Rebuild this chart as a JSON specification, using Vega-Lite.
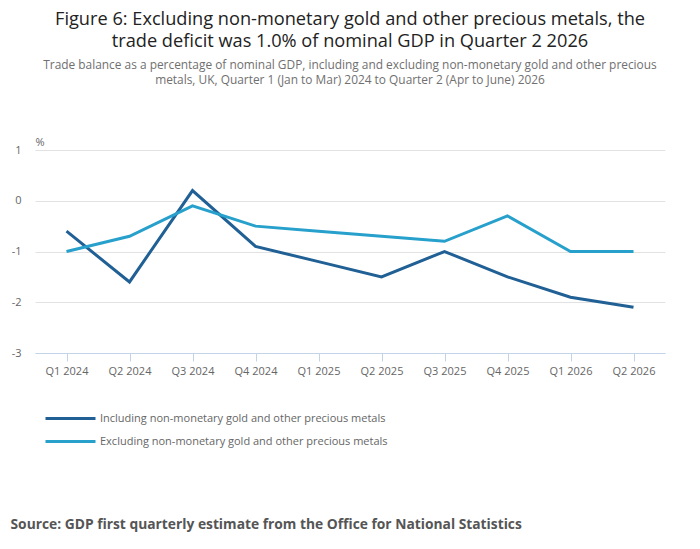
{
  "$schema": "https://vega.github.io/schema/vega-lite/v6.json",
  "width": 630,
  "height": 203,
  "autosize": "none",
  "padding": {"left": 35, "top": 150, "right": 35, "bottom": 196},
  "background": "white",
  "title": {
    "text": ["Figure 6: Excluding non-monetary gold and other precious metals, the", "trade deficit was 1.0% of nominal GDP in Quarter 2 2026"],
    "subtitle": ["Trade balance as a percentage of nominal GDP, including and excluding non-monetary gold and other precious", "metals, UK, Quarter 1 (Jan to Mar) 2024 to Quarter 2 (Apr to June) 2026"],
    "anchor": "middle",
    "font": "Open Sans",
    "fontSize": 18.2,
    "fontWeight": "normal",
    "color": "#222222",
    "lineHeight": 22,
    "subtitleFont": "Open Sans",
    "subtitleFontSize": 11.9,
    "subtitleColor": "#707070",
    "subtitleLineHeight": 15,
    "subtitlePadding": 9,
    "offset": 49
  },
  "data": {
    "values": [
      {"quarter": "Q1 2024", "series": "Including non-monetary gold and other precious metals", "value": -0.6},
      {"quarter": "Q2 2024", "series": "Including non-monetary gold and other precious metals", "value": -1.6},
      {"quarter": "Q3 2024", "series": "Including non-monetary gold and other precious metals", "value": 0.2},
      {"quarter": "Q4 2024", "series": "Including non-monetary gold and other precious metals", "value": -0.9},
      {"quarter": "Q1 2025", "series": "Including non-monetary gold and other precious metals", "value": -1.2},
      {"quarter": "Q2 2025", "series": "Including non-monetary gold and other precious metals", "value": -1.5},
      {"quarter": "Q3 2025", "series": "Including non-monetary gold and other precious metals", "value": -1.0},
      {"quarter": "Q4 2025", "series": "Including non-monetary gold and other precious metals", "value": -1.5},
      {"quarter": "Q1 2026", "series": "Including non-monetary gold and other precious metals", "value": -1.9},
      {"quarter": "Q2 2026", "series": "Including non-monetary gold and other precious metals", "value": -2.1},
      {"quarter": "Q1 2024", "series": "Excluding non-monetary gold and other precious metals", "value": -1.0},
      {"quarter": "Q2 2024", "series": "Excluding non-monetary gold and other precious metals", "value": -0.7},
      {"quarter": "Q3 2024", "series": "Excluding non-monetary gold and other precious metals", "value": -0.1},
      {"quarter": "Q4 2024", "series": "Excluding non-monetary gold and other precious metals", "value": -0.5},
      {"quarter": "Q1 2025", "series": "Excluding non-monetary gold and other precious metals", "value": -0.6},
      {"quarter": "Q2 2025", "series": "Excluding non-monetary gold and other precious metals", "value": -0.7},
      {"quarter": "Q3 2025", "series": "Excluding non-monetary gold and other precious metals", "value": -0.8},
      {"quarter": "Q4 2025", "series": "Excluding non-monetary gold and other precious metals", "value": -0.3},
      {"quarter": "Q1 2026", "series": "Excluding non-monetary gold and other precious metals", "value": -1.0},
      {"quarter": "Q2 2026", "series": "Excluding non-monetary gold and other precious metals", "value": -1.0}
    ]
  },
  "mark": {"type": "line", "strokeWidth": 3, "strokeJoin": "miter"},
  "encoding": {
    "x": {
      "field": "quarter",
      "type": "ordinal",
      "sort": null,
      "scale": {"type": "point", "padding": 0.5},
      "axis": {
        "title": "Source: GDP first quarterly estimate from the Office for National Statistics",
        "titleFont": "Open Sans",
        "titleFontSize": 13.8,
        "titleFontWeight": "bold",
        "titleColor": "#555555",
        "titleAnchor": "start",
        "titleAlign": "left",
        "titleBaseline": "alphabetic",
        "titleX": -25,
        "titleY": 175,
        "labelAngle": 0,
        "labelFont": "Open Sans",
        "labelFontSize": 11,
        "labelColor": "#666666",
        "labelPadding": 4,
        "domainColor": "#c3d3e8",
        "tickColor": "#c3d3e8",
        "tickSize": 8,
        "grid": false
      }
    },
    "y": {
      "field": "value",
      "type": "quantitative",
      "scale": {"domain": [-3, 1], "nice": false, "zero": false},
      "axis": {
        "title": "%",
        "titleAngle": 0,
        "titleX": 0,
        "titleY": -5,
        "titleAlign": "left",
        "titleBaseline": "alphabetic",
        "titleFont": "Open Sans",
        "titleFontSize": 11,
        "titleFontWeight": "normal",
        "titleColor": "#666666",
        "values": [-3, -2, -1, 0, 1],
        "labelExpr": "datum.value + ''",
        "labelFont": "Open Sans",
        "labelFontSize": 11,
        "labelColor": "#666666",
        "labelPadding": 14,
        "tickSize": 0,
        "domain": false,
        "gridColor": "#e2e2e2"
      }
    },
    "color": {
      "field": "series",
      "type": "nominal",
      "sort": null,
      "scale": {
        "domain": ["Including non-monetary gold and other precious metals", "Excluding non-monetary gold and other precious metals"],
        "range": ["#206095", "#27a0cc"]
      },
      "legend": {
        "title": null,
        "orient": "none",
        "legendX": 29,
        "legendY": 262,
        "direction": "vertical",
        "symbolType": "M-5,0H5",
        "symbolSize": 100,
        "symbolStrokeWidth": 3,
        "symbolFillColor": "transparent",
        "labelFont": "Open Sans",
        "labelFontSize": 11,
        "labelColor": "#666666",
        "labelOffset": 23,
        "rowPadding": 10,
        "labelLimit": 500
      }
    }
  },
  "config": {
    "view": {"stroke": null},
    "font": "Open Sans"
  }
}
